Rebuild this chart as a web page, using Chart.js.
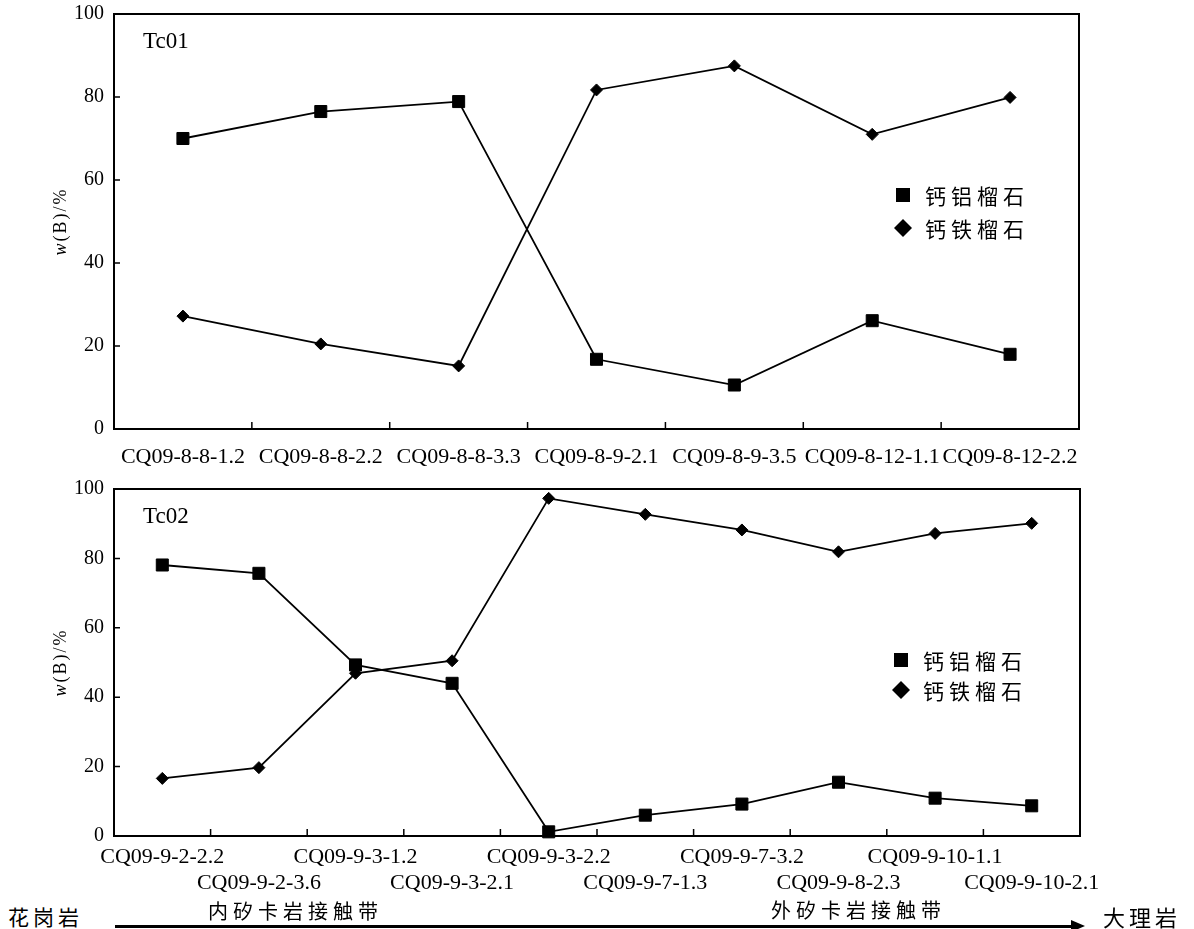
<!DOCTYPE html>
<html>
<head>
<meta charset="utf-8">
<script src="https://cdn.jsdelivr.net/npm/chart.js@4.4.1/dist/chart.umd.min.js"></script>
<style>
  body { margin: 0; background: #fff; width: 1194px; height: 929px; position: relative; overflow: hidden; }
  canvas { position: absolute; left: 0; }
  #topChart { top: 0; }
  #bottomChart { top: 470px; }
  .note { position: absolute; font-family: 'Noto Sans CJK SC'; color: #000; white-space: nowrap; line-height: 1; }
  #arrowLine { position: absolute; left: 115px; top: 925px; width: 958px; height: 3px; background: #000; }
  #arrowHead { position: absolute; left: 1071px; top: 920px; width: 0; height: 0;
    border-left: 14px solid #000; border-top: 6.5px solid transparent; border-bottom: 6.5px solid transparent; }
</style>
</head>
<body>
<canvas id="topChart" width="1194" height="470"></canvas>
<canvas id="bottomChart" width="1194" height="430"></canvas>

<div class="note" style="left:8px; top:906px; font-size:21px; letter-spacing:4px;">花岗岩</div>
<div class="note" style="left:208px; top:901px; font-size:20px; letter-spacing:5px;">内矽卡岩接触带</div>
<div class="note" style="left:771px; top:900px; font-size:20px; letter-spacing:5px;">外矽卡岩接触带</div>
<div class="note" style="left:1103px; top:905px; font-size:22px; letter-spacing:4px;">大理岩</div>
<div id="arrowLine"></div>
<div id="arrowHead"></div>

<script>
'use strict';

// Tc01 samples
let tc01Labels = ['CQ09-8-8-1.2', 'CQ09-8-8-2.2', 'CQ09-8-8-3.3', 'CQ09-8-9-2.1',
  'CQ09-8-9-3.5', 'CQ09-8-12-1.1', 'CQ09-8-12-2.2'];
let tc01Grossular = [70.0, 76.5, 78.9, 16.8, 10.6, 26.1, 18.0];
let tc01Andradite = [27.2, 20.5, 15.2, 81.7, 87.5, 71.0, 79.9];

// Tc02 samples
let tc02Labels = ['CQ09-9-2-2.2', 'CQ09-9-2-3.6', 'CQ09-9-3-1.2', 'CQ09-9-3-2.1', 'CQ09-9-3-2.2',
  'CQ09-9-7-1.3', 'CQ09-9-7-3.2', 'CQ09-9-8-2.3', 'CQ09-9-10-1.1', 'CQ09-9-10-2.1'];
let tc02Grossular = [78.1, 75.7, 49.3, 44.0, 1.2, 6.0, 9.2, 15.5, 10.9, 8.7];
let tc02Andradite = [16.6, 19.7, 46.9, 50.5, 97.3, 92.7, 88.2, 81.9, 87.2, 90.1];

let seriesNames = ['钙铝榴石', '钙铁榴石'];
let yTicks = [0, 20, 40, 60, 80, 100];

//box, inward ticks, tag, y title and legend
const framePlugin = {
  id: 'frame',
  afterDraw(chart, args, opts) {
    let ctx = chart.ctx;
    let a = chart.chartArea;
    let xs = chart.scales.x;
    let ys = chart.scales.y;
    ctx.save();
    ctx.strokeStyle = '#000';
    ctx.fillStyle = '#000';
    ctx.lineWidth = 2;
    ctx.strokeRect(a.left, a.top, a.right - a.left, a.bottom - a.top);

    ctx.lineWidth = 1.5;
    ctx.beginPath();
    ys.ticks.forEach(t => {
      if (t.value > ys.min && t.value < ys.max) {
        let y = ys.getPixelForValue(t.value);
        ctx.moveTo(a.left, y);
        ctx.lineTo(a.left + 6, y);
      }
    });
    for (let i = 1; i < xs.ticks.length; i++) {
      let x = (xs.getPixelForValue(i - 1) + xs.getPixelForValue(i)) / 2;
      ctx.moveTo(x, a.bottom);
      ctx.lineTo(x, a.bottom - 7);
    }
    ctx.stroke();

    // panel tag
    ctx.font = '23px "Liberation Serif"';
    ctx.textBaseline = 'alphabetic';
    ctx.textAlign = 'left';
    ctx.fillText(opts.tag, a.left + 29, a.top + 34);

    // y title, w in italics
    ctx.save();
    ctx.translate(61, (a.top + a.bottom) / 2);
    ctx.rotate(-Math.PI / 2);
    ctx.letterSpacing = '2px';
    ctx.textBaseline = 'middle';
    let italic = 'italic 18px "Liberation Serif"';
    let normal = '18px "Liberation Serif"';
    ctx.font = italic;
    let w1 = ctx.measureText('w').width;
    ctx.font = normal;
    let w2 = ctx.measureText('(B)/%').width;
    let start = -(w1 + w2) / 2;
    ctx.font = italic;
    ctx.fillText('w', start, 0);
    ctx.font = normal;
    ctx.fillText('(B)/%', start + w1, 0);
    ctx.restore();

    // legend
    ctx.font = '21px "Noto Sans CJK SC"';
    ctx.letterSpacing = '5px';
    ctx.textBaseline = 'middle';
    chart.data.datasets.forEach((ds, i) => {
      let mx = opts.legendX;
      let my = opts.legendY[i];
      ctx.beginPath();
      if (ds.pointStyle === 'rect') {
        ctx.rect(mx - 7, my - 7, 14, 14);
      } else {
        ctx.moveTo(mx, my - 9);
        ctx.lineTo(mx + 9, my);
        ctx.lineTo(mx, my + 9);
        ctx.lineTo(mx - 9, my);
        ctx.closePath();
      }
      ctx.fill();
      ctx.fillText(ds.label, mx + 22, my + 1);
    });
    ctx.restore();
  }
};

function makeChart(id, labels, grossular, andradite, setup) {
  let ctx = document.getElementById(id).getContext('2d');
  return new Chart(ctx, {
    type: 'line',
    data: {
      labels: labels,
      datasets: [{
        label: seriesNames[0],
        data: grossular,
        borderColor: '#000',
        backgroundColor: '#000',
        borderWidth: 1.8,
        pointStyle: 'rect',
        pointRadius: 8.5,
        pointBorderWidth: 1,
        tension: 0,
        clip: false
      },
      {
        label: seriesNames[1],
        data: andradite,
        borderColor: '#000',
        backgroundColor: '#000',
        borderWidth: 1.8,
        pointStyle: 'rectRot',
        pointRadius: 6,
        pointBorderWidth: 1,
        tension: 0,
        clip: false
      }
      ]
    },
    options: {
      responsive: false,
      animation: false,
      devicePixelRatio: 1,
      layout: { padding: { top: setup.top, right: setup.right, left: 0, bottom: 0 } },
      plugins: {
        legend: { display: false },
        tooltip: { enabled: false },
        frame: { tag: setup.tag, legendX: setup.legendX, legendY: setup.legendY }
      },
      scales: {
        x: {
          offset: true,
          grid: { display: false, drawTicks: false },
          border: { display: false },
          afterFit: s => {
            s.height = setup.xHeight;
            s.paddingLeft = 0;
            s.paddingRight = 0;
          },
          ticks: {
            autoSkip: false,
            maxRotation: 0,
            minRotation: 0,
            padding: setup.xPad,
            color: '#000',
            font: { family: 'Liberation Serif', size: 22, lineHeight: 1.15 },
            callback: setup.xLabel
          }
        },
        y: {
          min: yTicks[0],
          max: yTicks[yTicks.length - 1],
          grid: { display: false, drawTicks: false },
          border: { display: false },
          afterFit: s => {
            s.width = 114;
            s.paddingTop = 0;
            s.paddingBottom = 0;
          },
          afterBuildTicks: s => { s.ticks = yTicks.map(v => ({ value: v })); },
          ticks: {
            padding: 10,
            color: '#000',
            font: { family: 'Liberation Serif', size: 20 }
          }
        }
      }
    },
    plugins: [framePlugin]
  });
}

makeChart('topChart', tc01Labels, tc01Grossular, tc01Andradite, {
  tag: 'Tc01', top: 14, right: 115, xHeight: 41, xPad: 16,
  legendX: 903, legendY: [195, 228],
  xLabel: function(value) { return this.getLabelForValue(value); }
});

//staggered labels on two rows
makeChart('bottomChart', tc02Labels, tc02Grossular, tc02Andradite, {
  tag: 'Tc02', top: 19, right: 114, xHeight: 64, xPad: 9,
  legendX: 901, legendY: [190, 220],
  xLabel: function(value, index) {
    let l = this.getLabelForValue(value);
    return index % 2 === 0 ? [l, ''] : ['', l];
  }
});
</script>
</body>
</html>
